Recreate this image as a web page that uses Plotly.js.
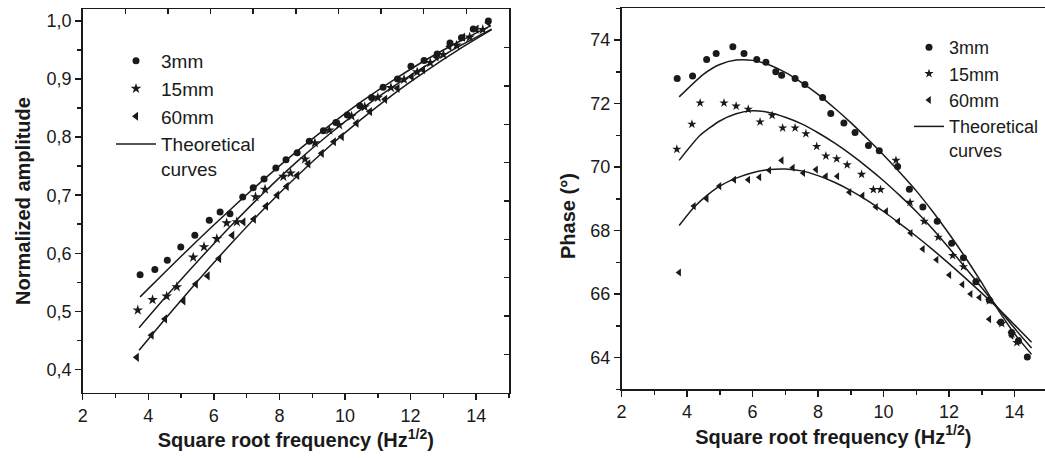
<!DOCTYPE html>
<html>
<head>
<meta charset="utf-8">
<script src="https://cdn.plot.ly/plotly-3.0.1.min.js"></script>
<style>html,body{margin:0;padding:0;background:#fff;}#chart{width:1045px;height:458px;}</style>
</head>
<body>
<div id="chart"></div>
<script>
// ---------- Left panel: normalized amplitude ----------
const ampX3 = [3.75, 4.20, 4.58, 4.99, 5.42, 5.86, 6.19, 6.49, 6.88, 7.20, 7.53, 7.89, 8.20, 8.54, 8.91, 9.34, 9.72, 10.07, 10.45, 10.81, 11.16, 11.60, 12.01, 12.41, 12.81, 13.20, 13.55, 13.91, 14.37];
const ampY3 = [0.563, 0.572, 0.588, 0.611, 0.631, 0.657, 0.671, 0.668, 0.697, 0.713, 0.728, 0.747, 0.761, 0.773, 0.793, 0.811, 0.825, 0.838, 0.854, 0.868, 0.886, 0.900, 0.922, 0.932, 0.943, 0.962, 0.971, 0.986, 1.000];
const ampX15 = [3.68, 4.13, 4.56, 4.87, 5.37, 5.70, 6.09, 6.39, 6.70, 7.27, 7.56, 8.12, 8.34, 8.78, 9.08, 9.52, 9.82, 10.20, 10.60, 11.00, 11.40, 11.80, 12.20, 12.60, 13.00, 13.40, 13.80, 14.20];
const ampY15 = [0.502, 0.520, 0.526, 0.542, 0.593, 0.611, 0.625, 0.652, 0.654, 0.697, 0.710, 0.732, 0.738, 0.762, 0.790, 0.812, 0.821, 0.836, 0.852, 0.868, 0.885, 0.899, 0.912, 0.928, 0.942, 0.958, 0.972, 0.985];
const ampX60 = [3.65, 4.10, 4.51, 5.07, 5.45, 5.81, 6.16, 6.56, 6.90, 7.22, 7.59, 7.93, 8.22, 8.54, 8.88, 9.29, 9.66, 9.90, 10.35, 10.76, 11.22, 11.60, 12.03, 12.38, 12.79, 13.18, 13.60, 14.01, 14.37];
const ampY60 = [0.421, 0.459, 0.487, 0.518, 0.547, 0.561, 0.591, 0.631, 0.654, 0.659, 0.681, 0.700, 0.715, 0.734, 0.754, 0.772, 0.792, 0.801, 0.824, 0.844, 0.865, 0.884, 0.904, 0.916, 0.938, 0.956, 0.972, 0.986, 0.997];
// theoretical curves
const ampTheoX3 = [3.75, 4.5, 5.5, 6.5, 7.5, 8.5, 9.5, 10.5, 11.5, 12.5, 13.5, 14.45];
const ampTheoY3 = [0.525, 0.567, 0.622, 0.675, 0.726, 0.774, 0.819, 0.861, 0.899, 0.934, 0.965, 0.992];
const ampTheoX15 = [3.72, 4.5, 5.5, 6.5, 7.5, 8.5, 9.5, 10.5, 11.5, 12.5, 13.5, 14.47];
const ampTheoY15 = [0.472, 0.523, 0.586, 0.646, 0.703, 0.756, 0.804, 0.848, 0.888, 0.924, 0.957, 0.986];
const ampTheoX60 = [3.72, 4.5, 5.5, 6.5, 7.5, 8.5, 9.5, 10.5, 11.5, 12.5, 13.5, 14.47];
const ampTheoY60 = [0.433, 0.486, 0.552, 0.615, 0.675, 0.731, 0.783, 0.831, 0.875, 0.915, 0.952, 0.985];

// ---------- Right panel: phase ----------
const phX3 = [3.70, 4.17, 4.60, 4.89, 5.40, 5.74, 6.13, 6.41, 6.71, 6.89, 7.30, 7.60, 8.14, 8.39, 8.79, 9.13, 9.54, 9.87, 10.43, 10.79, 11.20, 11.64, 12.08, 12.44, 12.82, 13.23, 13.58, 13.91, 14.12, 14.39];
const phY3 = [72.79, 72.87, 73.39, 73.58, 73.79, 73.58, 73.39, 73.30, 73.00, 72.89, 72.79, 72.60, 72.19, 71.69, 71.39, 71.09, 70.68, 70.51, 70.02, 69.30, 68.74, 68.29, 67.60, 67.14, 66.39, 65.81, 65.11, 64.79, 64.53, 64.02];
const phX15 = [3.69, 4.15, 4.40, 5.13, 5.50, 5.87, 6.23, 6.60, 6.92, 7.30, 7.63, 7.96, 8.24, 8.57, 8.89, 9.33, 9.69, 9.91, 10.38, 10.81, 11.24, 11.67, 12.11, 12.44, 12.85, 13.23, 13.61, 13.92, 14.07];
const phY15 = [70.56, 71.35, 72.02, 72.02, 71.92, 71.82, 71.42, 71.63, 71.23, 71.23, 71.05, 70.65, 70.35, 70.26, 70.07, 69.77, 69.29, 69.29, 70.21, 68.89, 68.29, 67.79, 67.21, 66.86, 66.39, 65.79, 65.07, 64.74, 64.47];
const phX60 = [3.76, 4.21, 4.60, 4.99, 5.44, 5.87, 6.21, 6.51, 6.89, 7.23, 7.55, 7.94, 8.24, 8.59, 8.96, 9.36, 9.77, 10.08, 10.45, 10.83, 11.20, 11.62, 12.01, 12.41, 12.66, 12.93, 13.23, 13.54, 13.91, 14.12];
const phY60 = [66.68, 68.77, 69.00, 69.40, 69.60, 69.60, 69.68, 69.90, 70.21, 69.98, 69.81, 69.92, 69.71, 69.71, 69.21, 69.10, 68.74, 68.61, 68.29, 67.92, 67.42, 67.08, 66.60, 66.30, 66.00, 65.89, 65.21, 65.11, 64.69, 64.53];
const phTheoX3 = [3.76, 4.5, 5.0, 5.5, 6.0, 6.5, 7.0, 7.5, 8.0, 8.5, 9.0, 9.5, 10.0, 10.5, 11.0, 11.5, 12.0, 12.5, 13.0, 13.5, 14.0, 14.52];
const phTheoY3 = [72.21, 72.92, 73.23, 73.37, 73.36, 73.22, 72.98, 72.66, 72.29, 71.86, 71.40, 70.90, 70.38, 69.83, 69.25, 68.60, 67.90, 67.15, 66.35, 65.50, 64.75, 64.10];
const phTheoX15 = [3.76, 4.4, 5.0, 5.5, 6.0, 6.5, 7.0, 7.5, 8.0, 8.5, 9.0, 9.5, 10.0, 10.5, 11.0, 11.5, 12.0, 12.5, 13.0, 13.5, 14.0, 14.52];
const phTheoY15 = [70.21, 71.00, 71.45, 71.68, 71.77, 71.72, 71.57, 71.36, 71.08, 70.76, 70.40, 70.00, 69.57, 69.10, 68.60, 68.05, 67.45, 66.83, 66.20, 65.55, 64.92, 64.30];
const phTheoX60 = [3.76, 4.2, 4.6, 5.0, 5.5, 6.0, 6.5, 7.0, 7.5, 8.0, 8.5, 9.0, 9.5, 10.0, 10.5, 11.0, 11.5, 12.0, 12.5, 13.0, 13.5, 14.0, 14.52];
const phTheoY60 = [68.16, 68.72, 69.10, 69.40, 69.65, 69.82, 69.92, 69.94, 69.88, 69.73, 69.52, 69.26, 68.95, 68.60, 68.22, 67.82, 67.40, 66.96, 66.50, 66.03, 65.55, 65.03, 64.48];

const seriesNames = ['3mm', '15mm', '60mm'];
const theoName = 'Theoretical<br>curves';
const xTitle = '<b>Square root frequency (Hz<sup>1/2</sup>)</b>';
const yTitleLeft = '<b>Normalized amplitude</b>';
const yTitleRight = '<b>Phase (°)</b>';
// frame (top / right) axis scale of the left panel: 10 equal divisions
const frameRange = [0, 10];

const FAM = 'Liberation Sans, Arial, sans-serif';
const INK = '#1a1a1a';
const W = 1045, H = 458;

function mk(x, y, name, symbol, size, xa, ya, leg) {
  return {x: x, y: y, name: name, type: 'scatter', mode: 'markers', xaxis: xa, yaxis: ya,
    legend: leg, marker: {symbol: symbol, size: size, color: INK, line: {width: 0}}};
}
function theo(x, y, xa, ya, leg, show) {
  return {x: x, y: y, name: theoName, type: 'scatter', mode: 'lines', xaxis: xa, yaxis: ya,
    legend: leg, showlegend: show, line: {color: INK, width: 1.5, shape: 'spline', smoothing: 0.6}};
}
// helper trace that draws nothing (mode 'none'); it only makes Plotly build the frame axes
function frame(xa, ya) {
  return {x: frameRange, y: frameRange, type: 'scatter', mode: 'none', xaxis: xa, yaxis: ya,
    showlegend: false, hoverinfo: 'skip'};
}

const data = [
  mk(ampX3, ampY3, seriesNames[0], 'circle', 7, 'x', 'y', 'legend'),
  mk(ampX15, ampY15, seriesNames[1], 'star', 8, 'x', 'y', 'legend'),
  mk(ampX60, ampY60, seriesNames[2], 'triangle-left', 8, 'x', 'y', 'legend'),
  theo(ampTheoX3, ampTheoY3, 'x', 'y', 'legend', true),
  theo(ampTheoX15, ampTheoY15, 'x', 'y', 'legend', false),
  theo(ampTheoX60, ampTheoY60, 'x', 'y', 'legend', false),
  mk(phX3, phY3, seriesNames[0], 'circle', 7, 'x2', 'y2', 'legend2'),
  mk(phX15, phY15, seriesNames[1], 'star', 7, 'x2', 'y2', 'legend2'),
  mk(phX60, phY60, seriesNames[2], 'triangle-left', 7, 'x2', 'y2', 'legend2'),
  theo(phTheoX3, phTheoY3, 'x2', 'y2', 'legend2', true),
  theo(phTheoX15, phTheoY15, 'x2', 'y2', 'legend2', false),
  theo(phTheoX60, phTheoY60, 'x2', 'y2', 'legend2', false),
  frame('x3', 'y3')
];

const tickFont = {family: FAM, size: 18, color: INK};
const titleFont = {family: FAM, size: 20, color: INK};
function ax(o) {
  return Object.assign({
    showgrid: false, zeroline: false, showline: true, linecolor: INK, linewidth: 1.5,
    ticks: 'outside', ticklen: 6, tickwidth: 1.5, tickcolor: INK, tickfont: tickFont,
    fixedrange: true
  }, o);
}

const leftX = [82.7 / W, 509 / W];
const leftY = [1 - 392.7 / H, 1 - 9.3 / H];

const layout = {
  width: W, height: H,
  margin: {l: 0, r: 0, t: 0, b: 0},
  paper_bgcolor: '#fff', plot_bgcolor: 'rgba(0,0,0,0)',
  font: {family: FAM, color: INK},
  separators: ',.',
  xaxis: ax({domain: leftX, range: [2, 15], dtick: 2, tick0: 0, anchor: 'y', mirror: true,
    minor: {dtick: 1, ticks: 'outside', ticklen: 4, tickwidth: 1.5, tickcolor: INK},
    title: {text: xTitle, font: titleFont, standoff: 8}}),
  yaxis: ax({domain: leftY, range: [0.36, 1.02], dtick: 0.1, tick0: 0, tickformat: '.1f', anchor: 'x', mirror: true,
    minor: {dtick: 0.05, ticks: 'outside', ticklen: 4, tickwidth: 1.5, tickcolor: INK},
    title: {text: yTitleLeft, font: titleFont, standoff: 10}}),
  // frame axes of the left panel: own tick spacing on top / right
  xaxis3: ax({domain: leftX, side: 'top', anchor: 'y3', range: frameRange, dtick: 1, tick0: 0, ticks: 'inside', ticklen: 5, showticklabels: false}),
  yaxis3: ax({domain: leftY, side: 'right', anchor: 'x3', range: frameRange, dtick: 1, tick0: 0, ticks: 'inside', ticklen: 5, showticklabels: false}),
  xaxis2: ax({domain: [621.5 / W, 1], range: [2, 14.93], dtick: 2, tick0: 0, anchor: 'y2', mirror: true,
    minor: {dtick: 1, ticks: 'outside', ticklen: 4, tickwidth: 1.5, tickcolor: INK},
    title: {text: xTitle, font: titleFont, standoff: 8}}),
  yaxis2: ax({domain: [1 - 389.3 / H, 1 - 8.3 / H], range: [63, 75], dtick: 2, tick0: 0, anchor: 'x2',
    minor: {dtick: 1, ticks: 'outside', ticklen: 4, tickwidth: 1.5, tickcolor: INK}}),
  legend: {x: 111 / W, y: 1 - 42 / H, xanchor: 'left', yanchor: 'top', bgcolor: 'rgba(0,0,0,0)',
    font: {family: FAM, size: 19, color: INK}, itemwidth: 40, valign: 'top', traceorder: 'normal'},
  legend2: {x: 909 / W, y: 1 - 29 / H, xanchor: 'left', yanchor: 'top', bgcolor: 'rgba(0,0,0,0)',
    font: {family: FAM, size: 18, color: INK}, valign: 'top', traceorder: 'normal'},
  annotations: [{text: yTitleRight, xref: 'paper', yref: 'paper', x: 568 / W, y: 1 - 216 / H,
    textangle: -90, showarrow: false, xanchor: 'center', yanchor: 'middle', font: titleFont}]
};

Plotly.newPlot('chart', data, layout, {displayModeBar: false, staticPlot: true});
</script>
</body>
</html>
